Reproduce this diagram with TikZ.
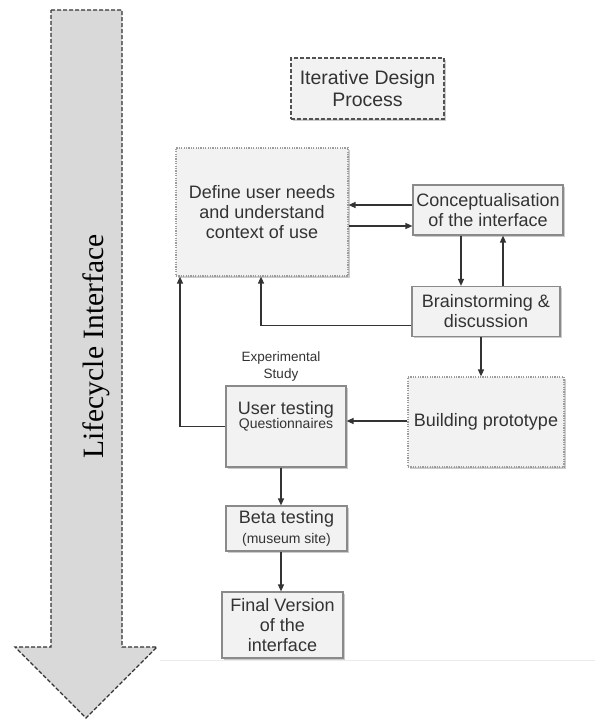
\documentclass[tikz,border=0pt]{standalone}
\usepackage{fontspec}
\setmainfont{Liberation Sans}
\newfontfamily\lifefont{Liberation Serif}
\usetikzlibrary{arrows.meta,shadows}
\definecolor{boxfill}{HTML}{F2F2F2}
\definecolor{boxline}{HTML}{8A8A8A}
\definecolor{ink}{HTML}{333333}
\definecolor{bigfill}{HTML}{D9D9D9}

\begin{document}
\begin{tikzpicture}[x=1pt,y=-1pt,
  box/.style={draw=boxline, line width=1.2pt, fill=boxfill, inner sep=0pt,
    align=center, text=ink, font=\fontsize{18}{20}\selectfont,
    drop shadow={shadow xshift=1.5pt, shadow yshift=-1.5pt, fill=black!40, opacity=0.5}},
  dotbox/.style={box, draw=boxline!85, dash pattern=on 1.2pt off 1.2pt},
  dashbox/.style={box, draw=ink!85, dash pattern=on 4pt off 2pt,
    font=\fontsize{19.5}{22}\selectfont},
  small/.style={text=ink, font=\fontsize{13.5}{17}\selectfont, align=center, inner sep=0pt},
  arr/.style={draw=ink, line width=1.3pt, -{Triangle[length=7pt,width=6pt]}},
]
\useasboundingbox (0,0) rectangle (595,720);
\fill[white] (0,0) rectangle (595,720);

% lifecycle arrow on the left
\path[fill=bigfill, draw=ink, line width=1.2pt, dash pattern=on 4pt off 2pt]
  (51,10) -- (122,10) -- (122,647) -- (157,647) -- (86,718) -- (15,647) -- (51,647) -- cycle;
\node[rotate=90, anchor=base, text=black, font=\lifefont\fontsize{29.5}{32}\selectfont]
  (life) at (103,346.5) {Lifecycle Interface};

% faint rule under the last stage
\draw[black!8, line width=1pt] (160,660) -- (595,660);

% stages
\node[dashbox, minimum width=153pt, minimum height=61pt] (iter) at (367.5,88.5)
  {Iterative Design\\Process};
\node[dotbox, minimum width=172pt, minimum height=128pt] (define) at (262,212)
  {Define user needs\\and understand\\context of use};
\node[box, minimum width=150pt, minimum height=50pt] (concept) at (488,210)
  {Conceptualisation\\of the interface};
\node[box, minimum width=148pt, minimum height=50pt] (brain) at (486,311.5)
  {Brainstorming \&\\discussion};
\node[dotbox, minimum width=156pt, minimum height=90pt] (build) at (486,422)
  {Building prototype};
\node[box, minimum width=120pt, minimum height=81pt] (user) at (286,426.5) {};
\node[align=center, text=ink, inner sep=0pt] (usertxt) at (286,416)
  {{\fontsize{18}{20}\selectfont User testing}\\[-1pt]{\fontsize{14}{17}\selectfont Questionnaires}};
\node[small] (exp) at (281,367) {Experimental\\Study};
\node[box, minimum width=121pt, minimum height=45pt] (beta) at (286.5,528.5)
  {Beta testing\\{\fontsize{14}{17}\selectfont (museum site)}};
\node[box, minimum width=121pt, minimum height=66pt] (final) at (282.5,625)
  {Final Version\\of the\\interface};

% connectors
\draw[arr] ([yshift=5pt]concept.west) coordinate (c1) -- (c1 -| define.east);
\draw[arr] ([yshift=-14pt]define.east) coordinate (c2) -- (c2 -| concept.west);
\draw[arr] ([xshift=-27pt]concept.south) coordinate (c3) -- (c3 |- brain.north);
\draw[arr] ([xshift=17pt]brain.north) coordinate (c4) -- (c4 |- concept.south);
\draw[arr] ([yshift=-14pt]brain.west) -| ([xshift=-1pt]define.south);
\draw[arr] ([xshift=-5pt]brain.south) coordinate (c5) -- (c5 |- build.north);
\draw[arr] ([yshift=1pt]build.west) coordinate (c6) -- (c6 -| user.east);
\draw[arr] (user.west) -| ([xshift=-82pt]define.south);
\draw[arr] ([xshift=-5pt]user.south) coordinate (c7) -- (c7 |- beta.north);
\draw[arr] ([xshift=-5.5pt]beta.south) coordinate (c8) -- (c8 |- final.north);
\end{tikzpicture}
\end{document}
